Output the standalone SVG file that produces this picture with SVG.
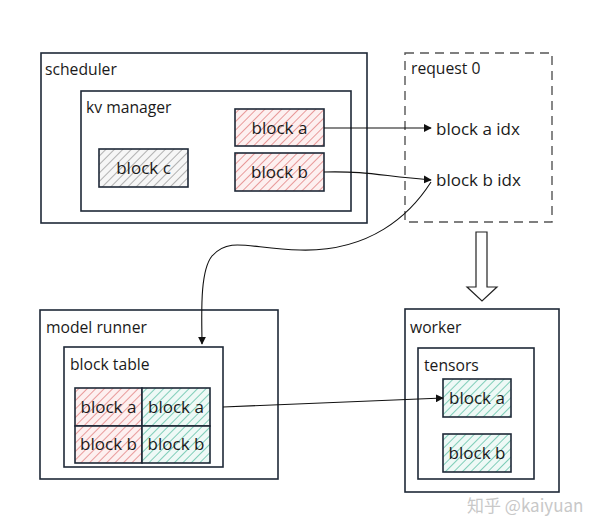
<svg xmlns="http://www.w3.org/2000/svg" width="610" height="532" viewBox="0 0 610 532">
<defs>
<style>
.box{fill:#fff;stroke:#1f2937;stroke-width:1.6}
.dash{fill:none;stroke:#555;stroke-width:1.4;stroke-dasharray:9 6}
.t{font-family:"Open Sans","Noto Sans","DejaVu Sans",sans-serif;font-size:15.7px;fill:#1a1a1a}
.b{font-size:17px}
.c{text-anchor:middle}
.line{fill:none;stroke:#111;stroke-width:1.1}
.red{fill:url(#hRed);stroke:#1f2937;stroke-width:1.6}
.teal{fill:url(#hTeal);stroke:#1f2937;stroke-width:1.6}
.grey{fill:url(#hGrey);stroke:#1f2937;stroke-width:1.6}
</style>
<pattern id="hRed" width="6" height="6" patternUnits="userSpaceOnUse" patternTransform="rotate(45)">
<rect width="6" height="6" fill="#fdf0f0"/><line x1="0" y1="0" x2="0" y2="6" stroke="#e89a9a" stroke-width="2"/>
</pattern>
<pattern id="hTeal" width="6" height="6" patternUnits="userSpaceOnUse" patternTransform="rotate(45)">
<rect width="6" height="6" fill="#eef9f6"/><line x1="0" y1="0" x2="0" y2="6" stroke="#7fcdb8" stroke-width="2"/>
</pattern>
<pattern id="hGrey" width="6" height="6" patternUnits="userSpaceOnUse" patternTransform="rotate(45)">
<rect width="6" height="6" fill="#f6f6f6"/><line x1="0" y1="0" x2="0" y2="6" stroke="#b0b0b0" stroke-width="2"/>
</pattern>
<marker id="arr" viewBox="0 0 10 10" refX="9" refY="5" markerWidth="8" markerHeight="8" markerUnits="userSpaceOnUse" orient="auto">
<path d="M0,0 L10,5 L0,10 z" fill="#111"/>
</marker>
</defs>
<rect width="610" height="532" fill="#fff"/>

<g id="scheduler">
<rect class="box" x="41" y="53" width="326" height="170"/>
<text class="t" x="45" y="75">scheduler</text>
</g>
<g id="kv-manager">
<rect class="box" x="81" y="91" width="270" height="120"/>
<text class="t" x="86" y="113">kv manager</text>
</g>
<g id="sched-block-a">
<rect class="red" x="235" y="109" width="89" height="37"/>
<text class="t b c" x="279.5" y="134">block a</text>
</g>
<g id="sched-block-b">
<rect class="red" x="235" y="153" width="89" height="38"/>
<text class="t b c" x="279.5" y="178">block b</text>
</g>
<g id="sched-block-c">
<rect class="grey" x="99" y="149" width="89" height="38"/>
<text class="t b c" x="143.5" y="174">block c</text>
</g>

<g id="request0">
<rect class="dash" x="405" y="53" width="147" height="169"/>
<text class="t" x="411" y="74">request 0</text>
<text class="t b" x="436" y="135">block a idx</text>
<text class="t b" x="436" y="186">block b idx</text>
</g>

<g id="down-arrow">
<path d="M476,232 L487,232 L487,287 L497,287 L482,301 L467,287 L476,287 Z" fill="#fff" stroke="#222" stroke-width="1.2"/>
</g>

<g id="model-runner">
<rect class="box" x="40" y="310" width="238" height="169"/>
<text class="t" x="46" y="333">model runner</text>
</g>
<g id="block-table">
<rect class="box" x="64" y="347" width="159" height="120"/>
<text class="t" x="70" y="370">block table</text>
</g>
<g id="bt-a-left">
<rect class="red" x="75" y="388" width="67" height="38"/>
<text class="t b c" x="108.5" y="413">block a</text>
</g>
<g id="bt-a-right">
<rect class="teal" x="142" y="388" width="68" height="38"/>
<text class="t b c" x="176" y="413">block a</text>
</g>
<g id="bt-b-left">
<rect class="red" x="75" y="426" width="67" height="37"/>
<text class="t b c" x="108.5" y="450">block b</text>
</g>
<g id="bt-b-right">
<rect class="teal" x="142" y="426" width="68" height="37"/>
<text class="t b c" x="176" y="450">block b</text>
</g>

<g id="worker">
<rect class="box" x="405" y="309" width="154" height="183"/>
<text class="t" x="410" y="333">worker</text>
</g>
<g id="tensors">
<rect class="box" x="418" y="348" width="116" height="131"/>
<text class="t" x="424" y="371">tensors</text>
</g>
<g id="w-block-a">
<rect class="teal" x="443" y="379" width="68" height="38"/>
<text class="t b c" x="477" y="404">block a</text>
</g>
<g id="w-block-b">
<rect class="teal" x="443" y="434" width="68" height="38"/>
<text class="t b c" x="477" y="459">block b</text>
</g>

<g id="connectors">
<path class="line" d="M324,128 L431,128" marker-end="url(#arr)"/>
<path class="line" d="M324,172 C370,171 380,176 431,180" marker-end="url(#arr)"/>
<path class="line" d="M431,182 C410,215 370,252 300,250 C250,249 230,236 212,256 C199,272 202,320 202,344" marker-end="url(#arr)"/>
<path class="line" d="M223,407 L443,398" marker-end="url(#arr)"/>
</g>

<text x="467" y="512" style="font-family:'Noto Sans CJK SC','Open Sans',sans-serif;font-size:17px;fill:#c8c8c8">知乎 @kaiyuan</text>
</svg>
